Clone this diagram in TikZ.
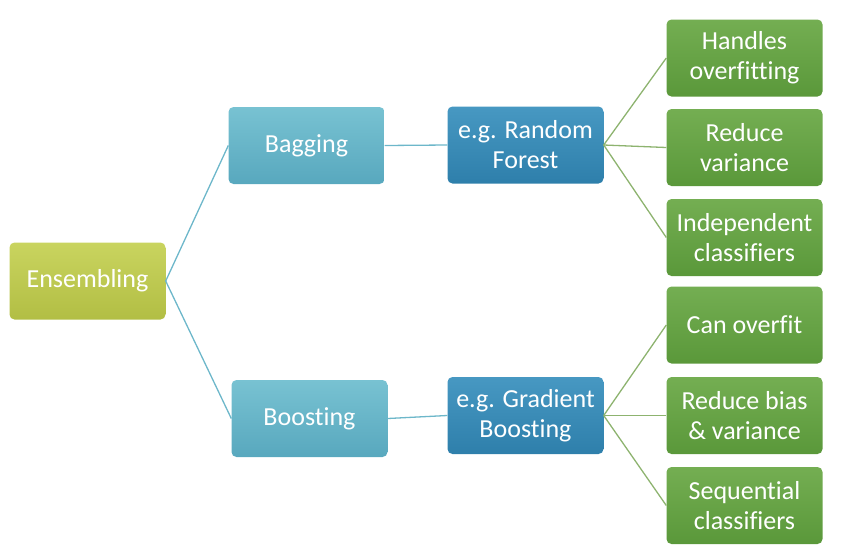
\documentclass[tikz,border=0pt]{standalone}
\usepackage{fontspec}
\setmainfont{Carlito}[Ligatures=NoCommon]
\definecolor{ensT}{HTML}{C9D45F}
\definecolor{ensB}{HTML}{B2BE44}
\definecolor{bagT}{HTML}{78C2D2}
\definecolor{bagB}{HTML}{58A8BE}
\definecolor{rfT}{HTML}{4798C2}
\definecolor{rfB}{HTML}{2E7FAB}
\definecolor{grT}{HTML}{74AE52}
\definecolor{grB}{HTML}{5A983A}
\definecolor{tealline}{HTML}{6DB7CA}
\definecolor{greenline}{HTML}{8DB36F}
\tikzset{
  box/.style={rounded corners=5pt, minimum width=156pt, minimum height=77pt,
    text=white, align=center, inner sep=0pt,
    font=\fontsize{26}{30}\selectfont},
  ensbox/.style={box, top color=ensT, bottom color=ensB},
  bagbox/.style={box, top color=bagT, bottom color=bagB},
  rfbox/.style={box, top color=rfT, bottom color=rfB},
  grbox/.style={box, top color=grT, bottom color=grB},
  tline/.style={draw=tealline, line width=1.3pt},
  gline/.style={draw=greenline, line width=1.3pt}
}
\begin{document}
\begin{tikzpicture}[x=1pt,y=-1pt]
\useasboundingbox (0,0) rectangle (846,555);
\node[ensbox] (ens) at (87.5,281) {Ensembling};
\node[bagbox] (bag) at (306.5,145.5) {Bagging};
\node[bagbox] (boo) at (309.5,418.5) {Boosting};
\node[rfbox] (rf) at (525.5,145) {e.g. Random\\Forest};
\node[rfbox] (gb) at (525.5,415.5) {e.g. Gradient\\Boosting};
\node[grbox] (h1) at (744.5,58) {Handles\\overfitting};
\node[grbox] (h2) at (744.5,147.5) {Reduce\\variance};
\node[grbox] (h3) at (744.5,237.5) {Independent\\classifiers};
\node[grbox] (g1) at (744.5,325) {Can overfit};
\node[grbox] (g2) at (744.5,415.5) {Reduce bias\\\& variance};
\node[grbox] (g3) at (744.5,505.5) {Sequential\\classifiers};
\draw[tline] (ens.east) -- (bag.west);
\draw[tline] (ens.east) -- (boo.west);
\draw[tline] (bag.east) -- (rf.west);
\draw[tline] (boo.east) -- (gb.west);
\draw[gline] (rf.east) -- (h1.west);
\draw[gline] (rf.east) -- (h2.west);
\draw[gline] (rf.east) -- (h3.west);
\draw[gline] (gb.east) -- (g1.west);
\draw[gline] (gb.east) -- (g2.west);
\draw[gline] (gb.east) -- (g3.west);
\end{tikzpicture}
\end{document}
